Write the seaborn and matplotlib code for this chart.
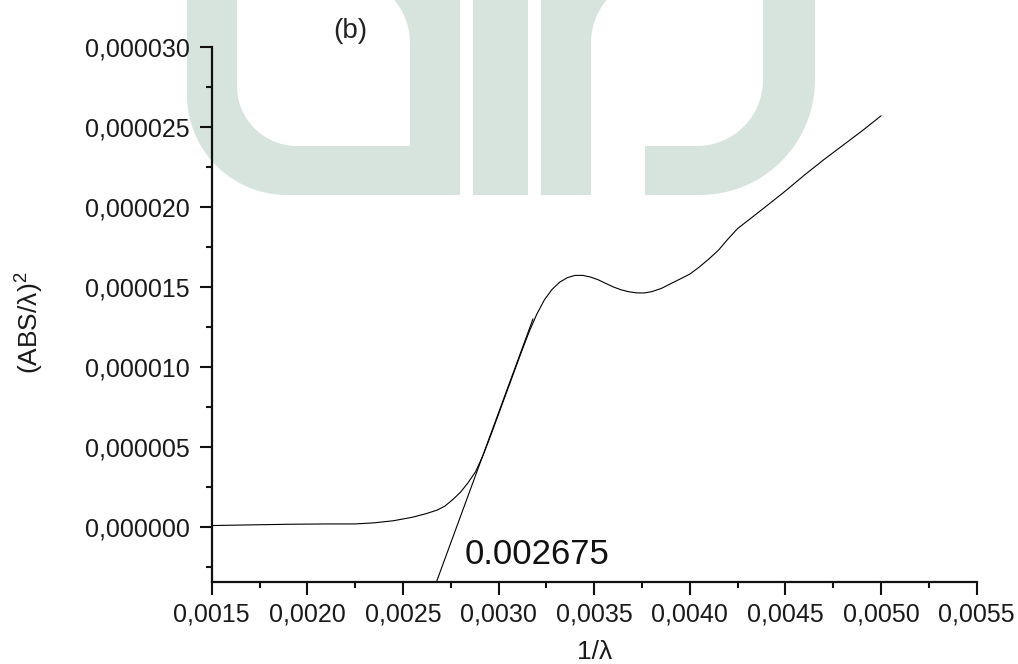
import numpy as np
import pandas as pd
import matplotlib
matplotlib.use("Agg")
import matplotlib.pyplot as plt
from matplotlib.patches import Polygon
from matplotlib.ticker import FixedLocator, MultipleLocator
import seaborn as sns

# Absorption spectrum, (ABS/lambda)^2 against 1/lambda
inv_lambda = [0.00150, 0.00170, 0.00190, 0.00210, 0.00225, 0.00235, 0.00245,
              0.00255, 0.00262, 0.00268, 0.00272, 0.00276, 0.00280, 0.00284,
              0.00288, 0.00292, 0.00296, 0.00300, 0.00304, 0.00308, 0.00312,
              0.00316, 0.00320, 0.00324, 0.00328, 0.00332, 0.00336, 0.00340,
              0.00344, 0.00348, 0.00352, 0.00356, 0.00360, 0.00364, 0.00368,
              0.00372, 0.00376, 0.00380, 0.00385, 0.00390, 0.00395, 0.00400,
              0.00405, 0.00410, 0.00415, 0.00420, 0.00425, 0.00432, 0.00440,
              0.00450, 0.00460, 0.00470, 0.00480, 0.00490, 0.00500]
abs_sq_e6 = [0.08, 0.12, 0.16, 0.18, 0.18, 0.25, 0.38,
             0.60, 0.82, 1.05, 1.30, 1.70, 2.15, 2.75,
             3.45, 4.50, 5.75, 7.05, 8.35, 9.65, 10.95,
             12.20, 13.30, 14.20, 14.85, 15.30, 15.58, 15.72,
             15.72, 15.62, 15.45, 15.22, 15.00, 14.82, 14.70,
             14.63, 14.62, 14.70, 14.90, 15.20, 15.50, 15.80,
             16.25, 16.75, 17.30, 18.00, 18.65, 19.30, 20.05,
             21.00, 22.00, 22.95, 23.85, 24.75, 25.70]

# Linear fit of the absorption edge
edge_value = 0.002675
fit_x = [edge_value, 0.00318]
fit_y_e6 = [-3.45, 13.0]

x_ticks = [0.0015, 0.0020, 0.0025, 0.0030, 0.0035, 0.0040, 0.0045, 0.0050, 0.0055]
x_tick_labels = ["0,0015", "0,0020", "0,0025", "0,0030", "0,0035",
                 "0,0040", "0,0045", "0,0050", "0,0055"]
y_ticks_e6 = [0, 5, 10, 15, 20, 25, 30]
y_tick_labels = ["0,000000", "0,000005", "0,000010", "0,000015",
                 "0,000020", "0,000025", "0,000030"]

curve = pd.DataFrame({"x": inv_lambda, "y": np.array(abs_sq_e6) * 1e-6})
fit = pd.DataFrame({"x": fit_x, "y": np.array(fit_y_e6) * 1e-6})

sns.set_theme(style="ticks")
plt.rcParams["font.family"] = ["Liberation Sans", "DejaVu Sans"]
plt.rcParams["mathtext.fontset"] = "custom"
plt.rcParams["mathtext.rm"] = "Liberation Sans"
plt.rcParams["mathtext.it"] = "Liberation Sans:italic"

W, H = 1018, 664
fig = plt.figure(figsize=(W / 100, H / 100), dpi=100, facecolor="white")

# Background emblem, drawn in pixel space behind the plot
bg = fig.add_axes([0, 0, 1, 1], zorder=-1)
bg.set_xlim(0, W)
bg.set_ylim(H, 0)
bg.axis("off")


def arc(cx, cy, r, a0, a1, n=30):
    t = np.radians(np.linspace(a0, a1, n))
    return np.column_stack([cx + r * np.cos(t), cy + r * np.sin(t)])


shape_u = np.vstack([
    [[187, -10]],
    arc(287, 95, 100, 180, 90),
    [[460, 195], [460, -10]],
    arc(343, 43, 67, -50, 0),
    [[410, 146]],
    arc(297, 86, 60, 90, 180),
    [[237, -10]],
])
shape_bar = np.array([[473, -10], [473, 195], [528, 195], [528, -10]])
shape_i = np.vstack([
    [[541, -10], [541, 195], [591, 195]],
    arc(658, 43, 67, 180, 230),
])
shape_n = np.vstack([
    [[645, 146]],
    arc(697, 80, 66, 90, 0),
    [[763, -10], [815, -10]],
    arc(700, 80, 115, 0, 90),
    [[645, 195]],
])
for pts in (shape_u, shape_bar, shape_i, shape_n):
    bg.add_patch(Polygon(pts, closed=True, facecolor="#d6e4dd", edgecolor="none"))

ax = fig.add_axes([211.7 / W, 1 - 582 / H, 765 / W, 535 / H])
ax.patch.set_visible(False)

sns.lineplot(data=curve, x="x", y="y", ax=ax, color="black", lw=0.8,
             sort=False, estimator=None)
sns.lineplot(data=fit, x="x", y="y", ax=ax, color="black", lw=0.8,
             sort=False, estimator=None)

ax.set_xlim(0.0015, 0.0055)
ax.set_ylim(-3.45e-6, 30e-6)

ax.xaxis.set_major_locator(FixedLocator(x_ticks))
ax.set_xticklabels(x_tick_labels)
ax.xaxis.set_minor_locator(MultipleLocator(0.00025))
ax.yaxis.set_major_locator(FixedLocator(np.array(y_ticks_e6) * 1e-6))
ax.set_yticklabels(y_tick_labels)
ax.yaxis.set_minor_locator(MultipleLocator(2.5e-6))

for side in ("top", "right"):
    ax.spines[side].set_visible(False)
for side in ("left", "bottom"):
    ax.spines[side].set_linewidth(1.6)
    ax.spines[side].set_color("#111111")

ax.tick_params(axis="both", which="major", direction="out", length=9,
               width=1.5, colors="#111111", labelsize=18, labelcolor="#1a1a1a")
ax.tick_params(axis="both", which="minor", direction="out", length=4.5,
               width=1.5, colors="#111111")
ax.tick_params(axis="y", which="major", pad=7)
ax.tick_params(axis="x", which="major", pad=6)

ax.set_xlabel("1/λ", fontsize=19, color="#1a1a1a")
ax.xaxis.set_label_coords(0.5, -0.108)
ax.set_ylabel(r"(ABS/λ)$^{\mathrm{2}}$", fontsize=19, color="#1a1a1a")
ax.yaxis.set_label_coords(-0.216, 0.484)

ax.text(0.002824, -1.7e-6, f"{edge_value:.6f}", fontsize=25,
        ha="left", va="center", color="#111111")
ax.text(0.181, 1.03, "(b)", transform=ax.transAxes, fontsize=20,
        ha="center", va="center", color="#222222", clip_on=False)

fig.savefig("out.png", dpi=100, facecolor="white")
